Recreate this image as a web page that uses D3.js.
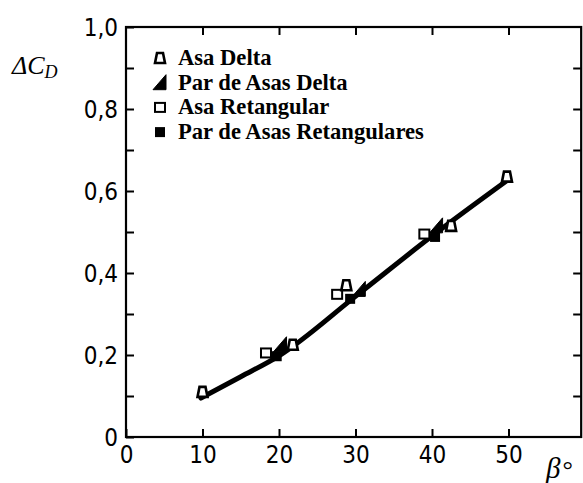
<!DOCTYPE html>
<html>
<head>
<meta charset="utf-8">
<script src="https://cdn.jsdelivr.net/npm/d3@7"></script>
<style>
  body { margin: 0; background: #fff; }
  .tick text { font-family: "Liberation Sans Narrow", "DejaVu Sans Condensed", "Arial Narrow", sans-serif; font-size: 24px; fill: #000; }
  .legend text { font-family: "Liberation Serif", "Times New Roman", serif; font-size: 22.6px; font-weight: bold; fill: #000; }
</style>
</head>
<body>
<script>
var W = 583, H = 483;

// tick labels
var xTicks = [0, 10, 20, 30, 40, 50];
var yTicks = [0, 0.1, 0.2, 0.3, 0.4, 0.5, 0.6, 0.7, 0.8, 0.9, 1.0];

// series (beta in degrees, delta Cd)
var asaDelta        = [[10, 0.11], [21.8, 0.225], [28.8, 0.37], [42.5, 0.515], [49.8, 0.635]];
var parAsasDelta    = [[20.2, 0.225], [30.5, 0.36], [40.6, 0.515]];
var asaRet          = [[18.3, 0.205], [27.6, 0.348], [39.0, 0.495]];
var parAsasRet      = [[19.7, 0.197], [29.3, 0.337], [40.4, 0.488]];
// fitted curve
var curve = [[9.8, 0.095], [15, 0.147], [20, 0.198], [30, 0.343], [40, 0.49], [50, 0.628]];

var legendNames = ["Asa Delta", "Par de Asas Delta", "Asa Retangular", "Par de Asas Retangulares"];

var x = d3.scaleLinear().domain([0, 60]).range([126, 585]);
var y = d3.scaleLinear().domain([0, 1]).range([437, 27]);
var xRight = x(59.5);

var svg = d3.select("body").append("svg")
  .attr("width", W).attr("height", H);

var fmt = function(d) {
  if (d === 0) return "0";
  var r = Math.round(d * 10);
  if (r % 2 !== 0) return "";
  return d3.format(".1f")(d).replace(".", ",");
};

// bottom axis
var gx = svg.append("g").attr("transform", "translate(0," + y(0) + ")")
  .call(d3.axisBottom(x).tickValues(xTicks).tickSizeInner(-8).tickSizeOuter(0).tickPadding(9).tickFormat(d3.format("d")));
// top axis
var gxt = svg.append("g").attr("transform", "translate(0," + y(1) + ")")
  .call(d3.axisTop(x).tickValues(xTicks.slice(1)).tickSizeInner(-8).tickSizeOuter(0).tickFormat(""));
// left axis
var gy = svg.append("g").attr("transform", "translate(" + x(0) + ",0)")
  .call(d3.axisLeft(y).tickValues(yTicks).tickSizeInner(-8).tickSizeOuter(0).tickPadding(8).tickFormat(fmt));
// right axis
var gyr = svg.append("g").attr("transform", "translate(" + xRight + ",0)")
  .call(d3.axisRight(y).tickValues(yTicks.slice(1, -1)).tickSizeInner(-8).tickSizeOuter(0).tickFormat(""));

[gx, gxt, gy, gyr].forEach(function(g) {
  g.select(".domain").remove();
  g.selectAll(".tick line").attr("stroke", "#000").attr("stroke-width", 2);
});
gy.selectAll(".tick text").attr("dy", "0.36em");

// frame
svg.append("rect")
  .attr("x", x(0)).attr("y", y(1))
  .attr("width", xRight - x(0)).attr("height", y(0) - y(1))
  .attr("fill", "none").attr("stroke", "#000").attr("stroke-width", 2.2);

// axis titles
var yt = svg.append("text")
  .attr("x", 12).attr("y", 74)
  .style("font-family", "'Liberation Serif', serif")
  .style("font-style", "italic").style("font-size", "26px");
yt.append("tspan").text("ΔC");
yt.append("tspan").attr("dy", 4).style("font-size", "18px").text("D");

var xt = svg.append("text")
  .attr("x", 546).attr("y", 478)
  .style("font-family", "'Liberation Serif', serif")
  .style("font-style", "italic").style("font-size", "29px");
xt.append("tspan").text("β");
xt.append("tspan").attr("dx", 2).style("font-style", "normal").style("font-size", "26px").text("°");

// fitted curve
svg.append("path")
  .datum(curve)
  .attr("fill", "none").attr("stroke", "#000").attr("stroke-width", 5)
  .attr("stroke-linecap", "round")
  .attr("d", d3.line().x(function(d) { return x(d[0]); }).y(function(d) { return y(d[1]); }).curve(d3.curveMonotoneX));

// marker drawers
function openTri(g, cx, cy) {
  g.append("path").attr("d", "M" + (cx - 5) + "," + (cy + 5) + " L" + (cx - 3) + "," + (cy - 5) + " L" + (cx + 3) + "," + (cy - 5) + " L" + (cx + 5) + "," + (cy + 5) + " Z")
    .attr("fill", "#fff").attr("stroke", "#000").attr("stroke-width", 2.6).attr("stroke-linejoin", "miter");
}
function fillTri(g, cx, cy) {
  g.append("path").attr("d", "M" + (cx - 7) + "," + (cy + 7) + " L" + (cx + 6) + "," + (cy - 8) + " L" + (cx + 6) + "," + (cy + 7) + " Z")
    .attr("fill", "#000").attr("stroke", "#000").attr("stroke-width", 1);
}
function openSq(g, cx, cy) {
  g.append("rect").attr("x", cx - 5).attr("y", cy - 4.5).attr("width", 10).attr("height", 9)
    .attr("fill", "#fff").attr("stroke", "#000").attr("stroke-width", 2);
}
function fillSq(g, cx, cy) {
  g.append("rect").attr("x", cx - 5).attr("y", cy - 5).attr("width", 10).attr("height", 10)
    .attr("fill", "#000");
}

var pts = svg.append("g");
asaRet.forEach(function(d) { openSq(pts, x(d[0]), y(d[1])); });
parAsasRet.forEach(function(d) { fillSq(pts, x(d[0]), y(d[1])); });
parAsasDelta.forEach(function(d) { fillTri(pts, x(d[0]), y(d[1])); });
asaDelta.forEach(function(d) { openTri(pts, x(d[0]), y(d[1])); });

// legend
var drawers = [openTri, fillTri, openSq, fillSq];
var lg = svg.append("g").attr("class", "legend");
legendNames.forEach(function(name, i) {
  var cy = 58 + i * 24.7;
  drawers[i](lg, 160, cy);
  lg.append("text").attr("x", 178).attr("y", cy + 7).text(name);
});
</script>
</body>
</html>
